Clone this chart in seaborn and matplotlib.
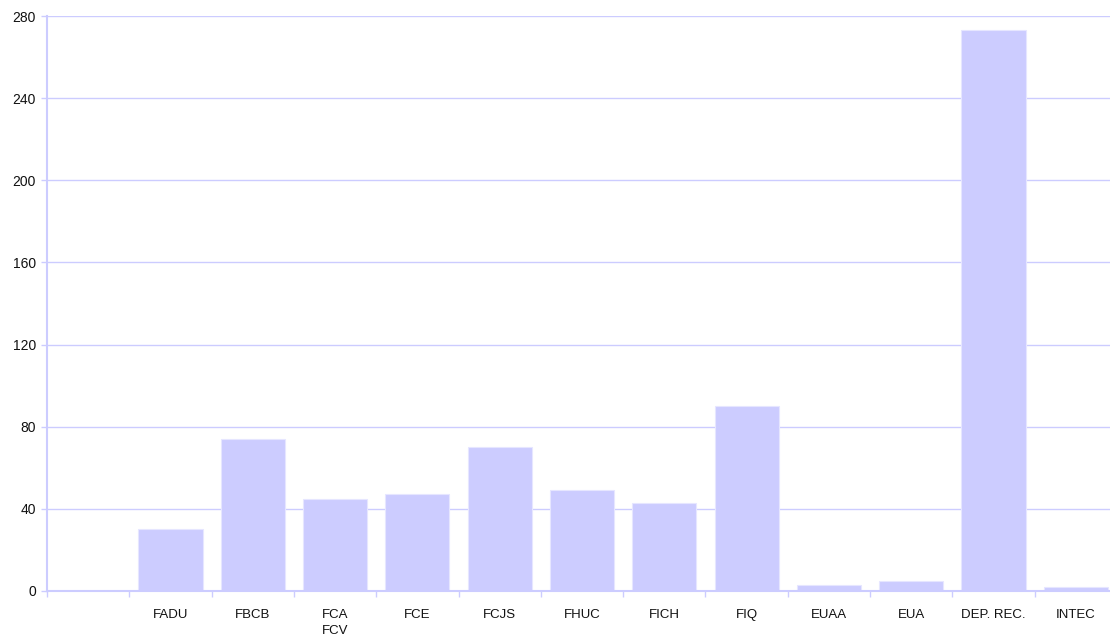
import pandas as pd
import matplotlib.pyplot as plt
import seaborn as sns
from matplotlib.ticker import FixedLocator

categories = ["", "FADU", "FBCB", "FCA\nFCV", "FCE", "FCJS", "FHUC", "FICH",
              "FIQ", "EUAA", "EUA", "DEP. REC.", "INTEC"]
values = [0, 30, 74, 45, 47, 70, 49, 43, 90, 3, 5, 273, 2]
yticks = [0, 40, 80, 120, 160, 200, 240, 280]

df = pd.DataFrame({"cat": categories, "val": values})

sns.set_theme(style="white")
plt.rcParams["font.family"] = ["Liberation Sans", "DejaVu Sans"]

fig = plt.figure(figsize=(11.1, 6.41), dpi=100)
ax = fig.add_axes([47 / 1110, 1 - 591 / 641, 1070 / 1110, 575 / 641])

line_col = "#ccccff"
sns.barplot(x="cat", y="val", data=df, order=categories, color="#ccccff",
            saturation=1, width=0.78, edgecolor="#e6e6ff", linewidth=0.8, ax=ax)

ax.set_ylim(0, 280)
ax.set_xlim(-0.5, len(categories) - 0.5)
ax.set_yticks(yticks)
ax.set_yticklabels([str(t) for t in yticks], fontsize=10, color="#111111")
ax.set_xticks(range(len(categories)))
ax.set_xticklabels(categories, fontsize=9.5, color="#111111", linespacing=1.45,
                   va="top")
ax.xaxis.set_minor_locator(FixedLocator([i - 0.5 for i in range(len(categories) + 1)]))
ax.tick_params(axis="x", which="major", length=0, pad=13)
ax.tick_params(axis="x", which="minor", length=4, color=line_col, width=1,
               direction="out", bottom=True)
ax.tick_params(axis="y", length=4, color=line_col, width=1, direction="out",
               left=True, pad=4)

ax.set_axisbelow(True)
ax.yaxis.grid(True, color=line_col, linewidth=1)
ax.xaxis.grid(False)
for s in ["top", "right"]:
    ax.spines[s].set_visible(False)
for s in ["left", "bottom"]:
    ax.spines[s].set_color(line_col)
    ax.spines[s].set_linewidth(1.5)

ax.set_xlabel("")
ax.set_ylabel("")

fig.savefig("out.png", dpi=100)
